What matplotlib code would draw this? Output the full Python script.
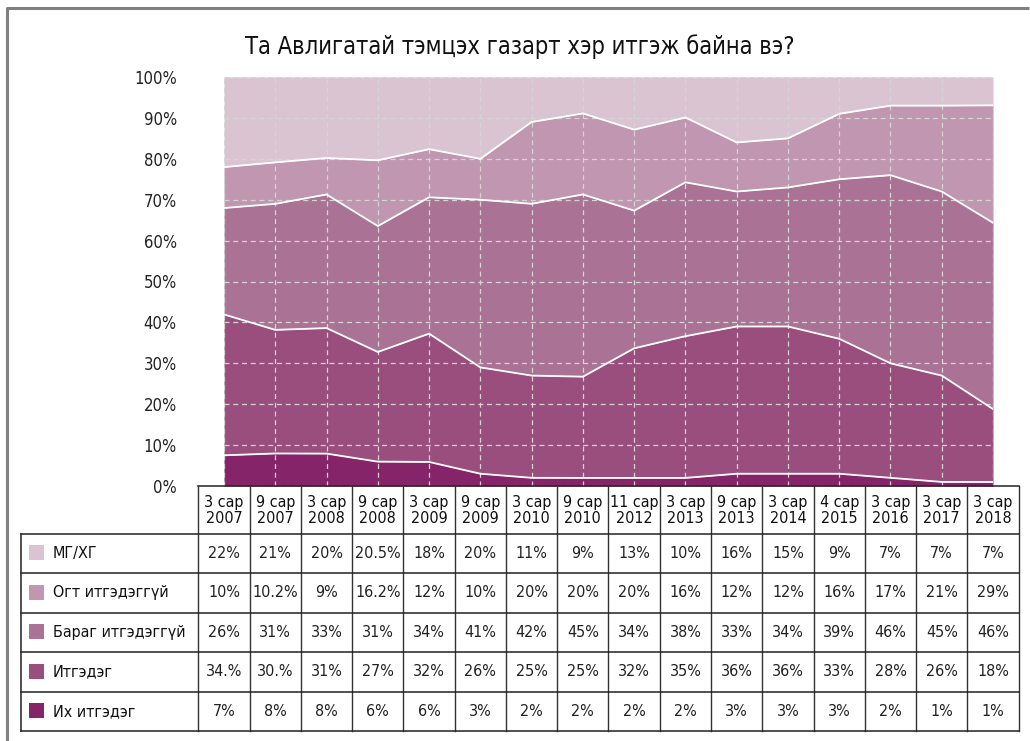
import matplotlib
matplotlib.use("Agg")
import matplotlib.pyplot as plt
import numpy as np

plt.rcParams['font.family'] = ['DejaVu Sans']
plt.rcParams['font.stretch'] = 'condensed'

# periods (table header)
periods = ["3 сар\n2007", "9 сар\n2007", "3 сар\n2008", "9 сар\n2008", "3 сар\n2009",
           "9 сар\n2009", "3 сар\n2010", "9 сар\n2010", "11 сар\n2012", "3 сар\n2013",
           "9 сар\n2013", "3 сар\n2014", "4 сар\n2015", "3 сар\n2016", "3 сар\n2017",
           "3 сар\n2018"]

# series, bottom to top
ikh = [7.5, 8, 8, 6, 6, 3, 2, 2, 2, 2, 3, 3, 3, 2, 1, 1]
itgedeg = [34.4, 30.4, 31, 27, 32, 26, 25, 25, 32, 35, 36, 36, 33, 28, 26, 18]
barag = [26, 31, 33, 31, 34, 41, 42, 45, 34, 38, 33, 34, 39, 46, 45, 46]
ogt = [10, 10.2, 9, 16.2, 12, 10, 20, 20, 20, 16, 12, 12, 16, 17, 21, 29]
mg = [22, 21, 20, 20.5, 18, 20, 11, 9, 13, 10, 16, 15, 9, 7, 7, 7]

# cell text as printed in the table
ikh_txt = ["7%", "8%", "8%", "6%", "6%", "3%", "2%", "2%", "2%", "2%", "3%", "3%", "3%", "2%", "1%", "1%"]
itgedeg_txt = ["34.%", "30.%", "31%", "27%", "32%", "26%", "25%", "25%", "32%", "35%", "36%", "36%",
               "33%", "28%", "26%", "18%"]
barag_txt = ["26%", "31%", "33%", "31%", "34%", "41%", "42%", "45%", "34%", "38%", "33%", "34%",
             "39%", "46%", "45%", "46%"]
ogt_txt = ["10%", "10.2%", "9%", "16.2%", "12%", "10%", "20%", "20%", "20%", "16%", "12%", "12%",
           "16%", "17%", "21%", "29%"]
mg_txt = ["22%", "21%", "20%", "20.5%", "18%", "20%", "11%", "9%", "13%", "10%", "16%", "15%",
          "9%", "7%", "7%", "7%"]

names = ["Их итгэдэг", "Итгэдэг", "Бараг итгэдэггүй", "Огт итгэдэггүй", "МГ/ХГ"]
colors = ["#862469", "#9a4e7e", "#aa7396", "#c096b1", "#dac4d2"]

title = "Та Авлигатай тэмцэх газарт хэр итгэж байна вэ?"

series = np.array([ikh, itgedeg, barag, ogt, mg], dtype=float)
series = series / series.sum(axis=0) * 100  # 100% stacked
cum = np.cumsum(series, axis=0)
x = np.arange(len(periods))

W, H = 1030, 741
fig = plt.figure(figsize=(W / 100, H / 100), dpi=100)
ax = fig.add_axes([224 / W, 1 - 486 / H, 769 / W, 409 / H])

lower = np.zeros(len(x))
for k in range(len(series)):
    ax.fill_between(x, lower, cum[k], color=colors[k], lw=0, zorder=1)
    lower = cum[k]
for k in range(len(series) - 1):
    ax.plot(x, cum[k], color="white", lw=1.3, zorder=3)

ax.set_xlim(0, len(x) - 1)
ax.set_ylim(0, 100)
ax.set_yticks(np.arange(0, 101, 10))
ax.set_yticklabels([f"{v}%" for v in range(0, 101, 10)], fontsize=12, color="#222222")
ax.set_xticks(x)
ax.set_xticklabels([])
ax.tick_params(axis="y", length=0, pad=34)
ax.tick_params(axis="x", length=0)
ax.grid(True, color="#d4d4d4", ls=(0, (4, 3)), lw=0.9, zorder=2)
ax.set_axisbelow(False)
for s in ax.spines.values():
    s.set_visible(False)

# overlay in pixel coordinates for title, frame and data table
ov = fig.add_axes([0, 0, 1, 1], zorder=5)
ov.set_xlim(0, W)
ov.set_ylim(H, 0)
ov.axis("off")
ov.patch.set_alpha(0)

ov.plot([7, 7, W - 1], [H, 8, 8], color="#808080", lw=2.2, solid_capstyle="butt")
ov.text(520, 47, title, ha="center", va="center", fontsize=17, color="#111111")

fig.canvas.draw()
cx = ax.transData.transform(np.column_stack([x, np.zeros(len(x))]))[:, 0]
cw = cx[1] - cx[0]
left_edge = cx[0] - cw / 2
right_edge = cx[-1] + cw / 2
lab_left = 21

y_head = 486
y_rows = [533.5 + 39.5 * i for i in range(6)]

line_kw = dict(color="#222222", lw=1.1)
ov.plot([left_edge, right_edge], [y_head, y_head], **line_kw)
for i in range(len(x) + 1):
    xe = left_edge + i * cw
    ov.plot([xe, xe], [y_head, y_rows[-1]], color="#333333", lw=1.0)
for yy in y_rows:
    ov.plot([lab_left, right_edge], [yy, yy], **line_kw)
ov.plot([lab_left, lab_left], [y_rows[0], y_rows[-1]], **line_kw)

for i, p in enumerate(periods):
    ov.text(cx[i], (y_head + y_rows[0]) / 2 + 1, p, ha="center", va="center",
            fontsize=11.5, color="#111111", linespacing=1.05)

row_names = names[::-1]
row_colors = colors[::-1]
row_txt = [mg_txt, ogt_txt, barag_txt, itgedeg_txt, ikh_txt]
for r in range(5):
    yc = (y_rows[r] + y_rows[r + 1]) / 2
    ov.add_patch(plt.Rectangle((29, yc - 8), 15, 15, color=row_colors[r], lw=0))
    ov.text(53, yc, row_names[r], ha="left", va="center", fontsize=11.5, color="#111111")
    for i, t in enumerate(row_txt[r]):
        ov.text(cx[i], yc, t, ha="center", va="center", fontsize=11.5, color="#222222")

fig.savefig("out.png", dpi=100)
